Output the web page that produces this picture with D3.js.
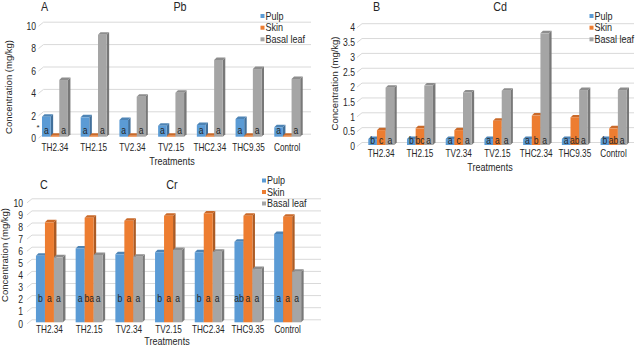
<!DOCTYPE html>
<html><head><meta charset="utf-8">
<script src="https://cdn.jsdelivr.net/npm/d3@7"></script>
<style>
html,body{margin:0;padding:0;background:#fff;}
svg{display:block;font-family:"Liberation Sans",Arial,sans-serif;}
</style></head><body>
<svg id="chart" width="641" height="349"></svg>
<script>
// ---------- DATA ----------
const categories = ["TH2.34","TH2.15","TV2.34","TV2.15","THC2.34","THC9.35","Control"];
const seriesNames = ["Pulp","Skin","Basal leaf"];
const seriesColors = ["#5B9BD5","#ED7D31","#A5A5A5"];

// Panel A - Pb
const pbPulp = [1.79,1.73,1.49,0.98,1.04,1.58,0.84];
const pbSkin = [0.08,0.08,0.08,0.08,0.08,0.08,0.08];
const pbLeaf = [5.06,9.1,3.57,3.93,6.85,6.04,5.15];
const pbTicks = [0,2,4,6,8,10];
const pbPulpLetters = ["a","a","a","a","a","a","a"];
const pbSkinLetters = ["","","","","","",""];
const pbLeafLetters = ["a","a","a","a","a","a","a"];

// Panel B - Cd
const cdPulp = [0.2,0.2,0.2,0.2,0.2,0.2,0.2];
const cdSkin = [0.5,0.56,0.5,0.82,0.99,0.93,0.56];
const cdLeaf = [1.93,2.0,1.77,1.83,3.76,1.85,1.85];
const cdTicks = [0,0.5,1,1.5,2,2.5,3,3.5,4];
const cdPulpLetters = ["b","b","a","a","a","a","b"];
const cdSkinLetters = ["c","bc","c","a","b","ab","ab"];
const cdLeafLetters = ["a","a","a","a","a","a","a"];

// Panel C - Cr
const crPulp = [5.5,6.1,5.62,5.79,5.79,6.66,7.3];
const crSkin = [8.26,8.64,8.4,8.81,9.0,8.81,8.73];
const crLeaf = [5.37,5.56,5.42,5.98,5.83,4.4,4.18];
const crTicks = [0,1,2,3,4,5,6,7,8,9,10];
const crPulpLetters = ["b","a","b","b","b","ab","a"];
const crSkinLetters = ["a","ba","a","a","a","a","a"];
const crLeafLetters = ["a","a","a","a","a","a","a"];

// ---------- LAYOUT ----------
const svg = d3.select("#chart");
const TXT = "#262626";
const GRID = "#d9d9d9";
const SQ = 0.86; // horizontal squeeze of the original's lettering

function label(parent, x, y, str, size, anchor, sq){
  return parent.append("text")
    .attr("transform", `translate(${x},${y}) scale(${sq == null ? SQ : sq},1)`)
    .attr("dy","0.35em").attr("text-anchor", anchor || "start")
    .attr("font-size", size).attr("fill", TXT).text(str);
}

function drawPanel(c){
  const g = svg.append("g");
  const x = d3.scaleBand().domain(categories).range([c.x0, c.x1])
    .paddingInner(c.pi).paddingOuter(c.pi/2);
  const xs = d3.scaleBand().domain(seriesNames).range([0, x.bandwidth()]);
  const y = d3.scaleLinear().domain([0, c.max]).range([c.y0, c.yTop]);
  const dxW = 5, dyW = 4, d = 2.5;

  // back wall gridlines
  const grid = g.append("g").attr("stroke", GRID).attr("stroke-width", 1).attr("fill","none");
  c.ticks.forEach(t => {
    const yy = y(t);
    grid.append("path").attr("d",
      `M${c.gx0},${yy+1.5}L${c.gx0+dxW},${yy+1.5-dyW}L${c.gx1},${yy+1.5-dyW}`);
  });

  // y axis labels
  const ya = g.append("g").attr("transform", `translate(${c.labelRight},1.5)`)
    .call(d3.axisLeft(y).tickValues(c.ticks).tickSize(0).tickPadding(0).tickFormat(d3.format("")));
  ya.select(".domain").remove();
  ya.selectAll("text").attr("fill", TXT).attr("font-size", 10)
    .attr("font-family", "Liberation Sans, Arial, sans-serif")
    .attr("transform", `scale(${SQ},1)`);

  // x axis labels
  const xa = g.append("g").attr("transform", `translate(0,${c.xLabelTop})`)
    .call(d3.axisBottom(x).tickSize(0).tickPadding(0));
  xa.select(".domain").remove();
  xa.selectAll("text").attr("fill", TXT).attr("font-size", 10)
    .attr("font-family", "Liberation Sans, Arial, sans-serif")
    .attr("transform", `scale(0.82,1)`);

  // bars
  categories.forEach((cat, i) => {
    c.series.forEach((vals, s) => {
      const v = vals[i];
      const bx = x(cat) + xs(seriesNames[s]);
      const w = xs.bandwidth();
      const yv = y(v), yb = y(0);
      const base = d3.color(seriesColors[s]);
      const bg = g.append("g");
      bg.append("polygon")
        .attr("points", [[bx+w,yv],[bx+w+d,yv-d],[bx+w+d,yb-d],[bx+w,yb]].join(" "))
        .attr("fill", base.darker(0.9));
      bg.append("polygon")
        .attr("points", [[bx,yv],[bx+d,yv-d],[bx+w+d,yv-d],[bx+w,yv]].join(" "))
        .attr("fill", base.darker(0.45));
      bg.append("rect").attr("x", bx).attr("y", yv).attr("width", w).attr("height", yb-yv)
        .attr("fill", base);
    });
    c.letters.forEach((arr, s) => {
      if (!arr[i]) return;
      label(g, x(cat) + xs(seriesNames[s]) + xs.bandwidth()/2, c.letterY, arr[i], 10, "middle");
    });
  });

  // titles
  label(g, c.title.x, c.title.y, c.title.t, 12.5, "start");
  label(g, c.metal.x, c.metal.y, c.metal.t, 12.5, "middle");

  // axis titles
  g.append("text").attr("transform", `translate(${c.ytitle.x},${c.ytitle.y}) rotate(-90)`)
    .attr("dy","0.35em").attr("text-anchor","middle").attr("font-size", 9.5).attr("fill", TXT)
    .text("Concentration (mg/kg)");
  label(g, c.xtitle.x, c.xtitle.y, "Treatments", 10.5, "middle");

  // legend
  seriesNames.forEach((n, s) => {
    const ly = c.legend.rows[s];
    g.append("rect").attr("x", c.legend.x).attr("y", ly-2).attr("width", 4).attr("height", 4)
      .attr("fill", seriesColors[s]);
    label(g, c.legend.x+5, ly, n, 10.5, "start");
  });

  if (c.star) label(g, c.star.x, c.star.y, "*", 8, "middle", 1);
}

drawPanel({
  x0:35.6, x1:306.6, pi:0.33, y0:136.7, yTop:24.7, max:10, ticks:pbTicks,
  gx0:38.5, gx1:311, labelRight:36, xLabelTop:144, letterY:130,
  series:[pbPulp,pbSkin,pbLeaf], letters:[pbPulpLetters,pbSkinLetters,pbLeafLetters],
  title:{t:"A",x:41,y:7}, metal:{t:"Pb",x:180,y:7},
  ytitle:{x:9,y:87}, xtitle:{x:172,y:161},
  legend:{x:260.5, rows:[16,27.7,39.3]}, star:{x:38,y:127}
});
drawPanel({
  x0:361.9, x1:632.9, pi:0.33, y0:145, yTop:26.2, max:4, ticks:cdTicks,
  gx0:357, gx1:634, labelRight:355, xLabelTop:149.5, letterY:140.7,
  series:[cdPulp,cdSkin,cdLeaf], letters:[cdPulpLetters,cdSkinLetters,cdLeafLetters],
  title:{t:"B",x:373,y:7}, metal:{t:"Cd",x:500,y:7},
  ytitle:{x:335,y:83.5}, xtitle:{x:490,y:167},
  legend:{x:589.5, rows:[16,27.7,39.3]}
});
drawPanel({
  x0:29.6, x1:307.5, pi:0.32, y0:322.3, yTop:201.3, max:10, ticks:crTicks,
  gx0:27, gx1:321, labelRight:23, xLabelTop:326.3, letterY:298.3,
  series:[crPulp,crSkin,crLeaf], letters:[crPulpLetters,crSkinLetters,crLeafLetters],
  title:{t:"C",x:40,y:185}, metal:{t:"Cr",x:172,y:185},
  ytitle:{x:5,y:255}, xtitle:{x:167,y:341.7},
  legend:{x:262, rows:[180.5,192,203.5]}
});
</script>
</body></html>
